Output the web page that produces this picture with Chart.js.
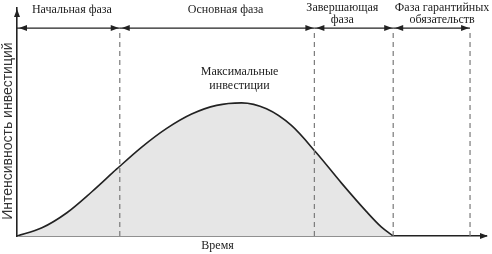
<!DOCTYPE html>
<html>
<head>
<meta charset="utf-8">
<script src="https://cdn.jsdelivr.net/npm/chart.js@4"></script>
<style>
  body { margin: 0; background: #fff; }
  #wrap { width: 492px; height: 254px; }
</style>
</head>
<body>
<div id="wrap"><canvas id="phaseChart"></canvas></div>
<script>
// Time axis in arbitrary units, intensity 0..100
const timePoints = [0, 5, 10, 15, 20, 25, 30, 35, 40, 45, 50, 55, 60, 65, 70, 73, 75.4]
const intensity = [0, 3.6, 10.2, 19.4, 29.4, 39, 47.2, 53.5, 57.3, 58.4, 55.8, 48.5, 36.5, 23.3, 10.8, 4, 0]

const phaseNames = [["Начальная фаза"], ["Основная фаза"], ["Завершающая", "фаза"], ["Фаза гарантийных", "обязательств"]]
const phaseEdges = [0, 20.6, 59.6, 75.4, 90.8]
const peakLabel = ["Максимальные", "инвестиции"]
const xTitle = "Время"
const yTitle = "Интенсивность инвестиций"

const INK = "#222"
const SERIF = "'Liberation Serif', 'Times New Roman', serif"
const ARROW_LEVEL = 91.2
const labelX = [11, 41.8, 65.2, 85.2]

document.addEventListener("DOMContentLoaded", () => {
  const ctx = document.getElementById("phaseChart")

  function head(c, px, py, dir) {
    const len = 8, half = 3
    c.beginPath()
    c.moveTo(px, py)
    if (dir === "right") { c.lineTo(px - len, py - half); c.lineTo(px - len, py + half) }
    if (dir === "left") { c.lineTo(px + len, py - half); c.lineTo(px + len, py + half) }
    if (dir === "up") { c.lineTo(px - half, py + len); c.lineTo(px + half, py + len) }
    c.closePath()
    c.fill()
  }

  // arrowheads and annotation text
  const drawings = {
    id: "drawings",
    afterDatasetsDraw(chart) {
      const { ctx: c, chartArea: a, scales: { x, y } } = chart
      c.save()
      c.fillStyle = INK
      head(c, a.left, a.top + 1, "up")
      head(c, a.right + 2, a.bottom, "right")

      const rowY = y.getPixelForValue(ARROW_LEVEL)
      for (let i = 0; i < phaseNames.length; i++) {
        head(c, x.getPixelForValue(phaseEdges[i]) + 2, rowY, "left")
        head(c, x.getPixelForValue(phaseEdges[i + 1]) - 1, rowY, "right")
      }

      c.font = "12px " + SERIF
      c.textAlign = "center"
      c.textBaseline = "middle"
      phaseNames.forEach((lines, i) => {
        const px = x.getPixelForValue(labelX[i])
        if (lines.length === 1) {
          c.fillText(lines[0], px, y.getPixelForValue(99.3))
        } else {
          c.fillText(lines[0], px, y.getPixelForValue(100.2))
          c.fillText(lines[1], px, y.getPixelForValue(95))
        }
      })
      const peakX = x.getPixelForValue(44.6)
      c.fillText(peakLabel[0], peakX, y.getPixelForValue(72))
      c.fillText(peakLabel[1], peakX, y.getPixelForValue(65.8))
      c.fillText(xTitle, x.getPixelForValue(40.2), a.bottom + 10)

      // vertical axis title
      c.save()
      c.translate(8, y.getPixelForValue(46))
      c.rotate(-Math.PI / 2)
      c.font = "14px 'Liberation Sans', Arial, sans-serif"
      c.fillStyle = "#333"
      c.fillText(yTitle, 0, 0)
      c.restore()
      c.restore()
    },
  }

  const dashed = phaseEdges.slice(1).map((e) => ({
    data: [{ x: e, y: 0 }, { x: e, y: ARROW_LEVEL - 1 }],
    borderColor: "#7a7a7a",
    borderWidth: 1.2,
    borderDash: [5, 4],
    pointRadius: 0,
    tension: 0,
    order: 1,
  }))

  const shafts = phaseNames.map((_, i) => ({
    data: [{ x: phaseEdges[i], y: ARROW_LEVEL }, { x: phaseEdges[i + 1], y: ARROW_LEVEL }],
    borderColor: INK,
    borderWidth: 1.2,
    pointRadius: 0,
    tension: 0,
    order: 1,
  }))

  new Chart(ctx, {
    type: "line",
    data: {
      datasets: [
        {
          label: "Инвестиции",
          data: timePoints.map((t, i) => ({ x: t, y: intensity[i] })),
          borderColor: INK,
          borderWidth: 1.6,
          backgroundColor: "#e6e6e6",
          fill: "origin",
          cubicInterpolationMode: "monotone",
          pointRadius: 0,
          order: 3,
        },
        ...dashed,
        ...shafts,
      ],
    },
    options: {
      responsive: true,
      maintainAspectRatio: false,
      animation: false,
      layout: { padding: { top: 8, right: 6, bottom: 0, left: 0 } },
      scales: {
        x: {
          type: "linear",
          min: 0,
          max: 94,
          ticks: { display: false },
          grid: { display: false },
          border: { color: INK, width: 1.6 },
          afterFit: (s) => { s.height = 18 },
        },
        y: {
          min: 0,
          max: 100,
          ticks: { display: false },
          grid: { display: false },
          border: { color: INK, width: 1.6 },
          afterFit: (s) => { s.width = 17 },
        },
      },
      plugins: {
        legend: { display: false },
        tooltip: { enabled: false },
      },
    },
    plugins: [drawings],
  })
})
</script>
</body>
</html>
